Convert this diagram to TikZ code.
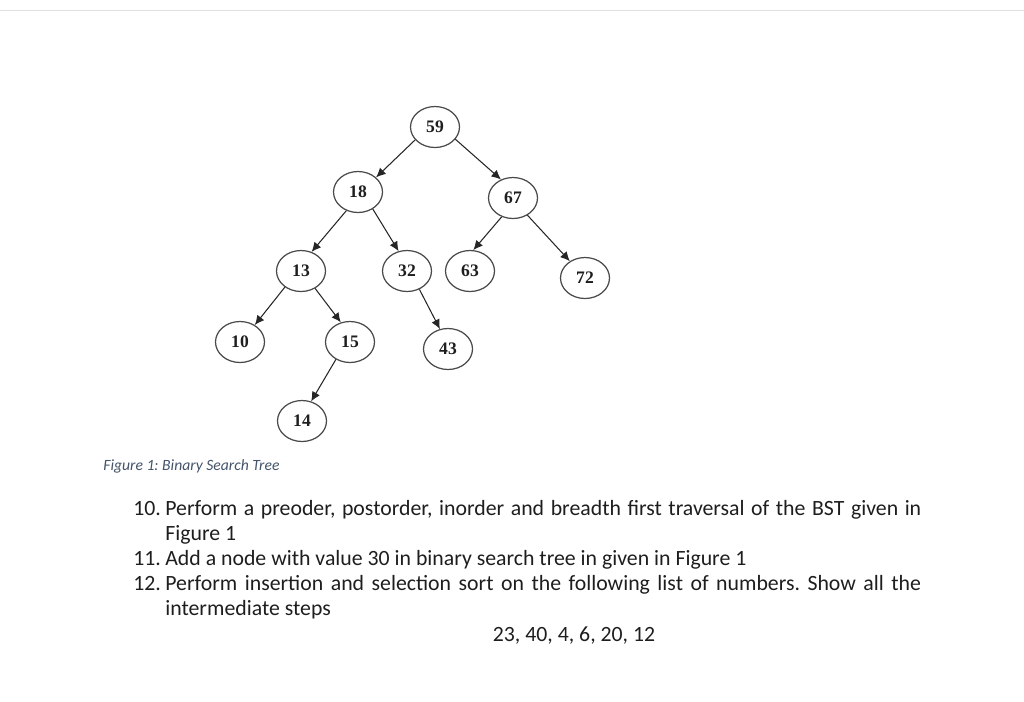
\documentclass[tikz,border=0pt]{standalone}
\usepackage{fontspec}
\setmainfont{Carlito}
\newfontfamily\keyfont{Liberation Serif}
\usetikzlibrary{shapes,arrows.meta}
\definecolor{capblue}{HTML}{44546A}
\definecolor{rim}{HTML}{4A4A4A}
\definecolor{inktext}{HTML}{1E1E1E}

\begin{document}
\frenchspacing
\begin{tikzpicture}[x=0.02cm,y=-0.02cm,
  key/.style={shape=ellipse,draw=rim,line width=0.7pt,minimum width=0.98cm,minimum height=0.82cm,inner sep=0pt,font=\keyfont\bfseries\fontsize{10}{12}\selectfont,text=inktext},
  link/.style={draw=black!85,line width=0.6pt,-{Latex[length=5.4pt,width=5pt]}},
  item/.style={anchor=base west,inner sep=0pt,font=\fontsize{12.4}{14.5}\selectfont,text=inktext}]
\path[use as bounding box] (0,0) rectangle (1024,701);
\draw[black!12,line width=1pt] (0,10.5) -- (1024,10.5);

\node[key] (59) at (435,127) {59};
\node[key] (18) at (358,192) {18};
\node[key] (67) at (513,198) {67};
\node[key] (13) at (301,271) {13};
\node[key] (32) at (407,271) {32};
\node[key] (63) at (470,271) {63};
\node[key] (72) at (585,278) {72};
\node[key] (10) at (240,342) {10};
\node[key] (15) at (350,342) {15};
\node[key] (43) at (448,349) {43};
\node[key] (14) at (302,421) {14};

\path [link] (59.213) -- (18.39);
\path [link] (59.329) -- (67.123);
\path [link] (18.238) -- (13.61);
\path [link] (18.311) -- (32.113);
\path [link] (67.239) -- (63.81);
\path [link] (67.310) -- (72.132);
\path [link] (13.225) -- (10.49);
\path [link] (13.309) -- (15.115);
\path [link] (15.231) -- (14.65);
\path [link] (32.304) -- (43.112);

\node[anchor=base west,inner sep=0pt,font=\itshape\fontsize{8.9}{10}\selectfont,text=capblue] (caption) at (103,470.5) {Figure 1: Binary Search Tree};

\node[item] (n10) at (133,515) {10.};
\node[item,text width=15.12cm,align=justify] (q10) at (165,515) {Perform a preoder, postorder, inorder and breadth first traversal of the BST given in\linebreak Figure 1};
\node[item] (n11) at (133,565) {11.};
\node[item] (q11) at (165,565) {Add a node with value 30 in binary search tree in given in Figure 1};
\node[item] (n12) at (133,590) {12.};
\node[item,text width=15.12cm,align=justify] (q12) at (165,590) {Perform insertion and selection sort on the following list of numbers. Show all the\linebreak intermediate steps};
\node[item,anchor=base] (list) at (574,641) {23, 40, 4, 6, 20, 12};
\end{tikzpicture}
\end{document}
